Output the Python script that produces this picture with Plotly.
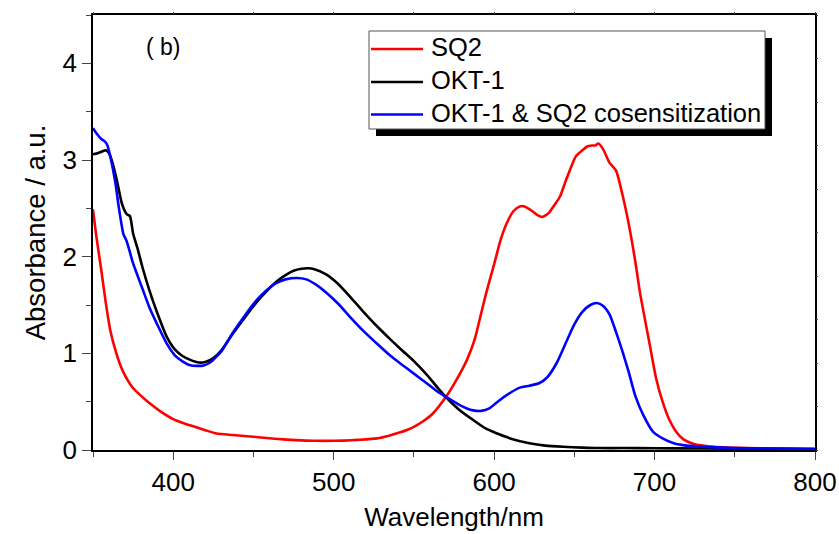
import plotly.graph_objects as go

# ---- data ----
okt_wl = [350, 353, 356, 358, 360, 362, 365, 368, 371, 373, 375, 378, 381, 385, 390, 396, 401, 406, 411, 416,
          420, 425, 430, 437, 445, 452, 458, 465, 470, 475, 480, 484, 488, 495, 502, 510, 518, 527, 535, 542,
          550, 558, 565, 571, 578, 587, 595, 602, 610, 622, 632, 643, 655, 665, 680, 700, 730, 760, 800]
okt_abs = [3.06, 3.07, 3.09, 3.10, 3.07, 2.98, 2.78, 2.55, 2.44, 2.42, 2.24, 2.07, 1.88, 1.66, 1.42, 1.17, 1.04, 0.97, 0.93, 0.905,
           0.91, 0.95, 1.03, 1.20, 1.38, 1.53, 1.64, 1.75, 1.81, 1.855, 1.875, 1.88, 1.87, 1.82, 1.73, 1.59, 1.44, 1.28, 1.15, 1.04,
           0.92, 0.78, 0.64, 0.53, 0.42, 0.31, 0.22, 0.17, 0.12, 0.07, 0.045, 0.033, 0.025, 0.02, 0.02, 0.018, 0.015, 0.012, 0.01]

co_wl = [350, 352, 355, 357.5, 359, 361, 364, 366, 369, 371, 375, 381, 385.5, 390, 396, 401, 406, 410, 415, 419,
         423, 430, 437, 445, 452, 458, 464.5, 470, 477, 483, 489, 496, 503, 510, 518, 527, 535, 542, 550, 558,
         565, 570, 577, 583, 587, 592, 597, 603, 609, 616, 622, 628, 633, 639, 645, 650, 655, 660, 664, 668,
         672, 676, 680, 684, 688, 693, 699, 705, 712, 720, 735, 750, 770, 800]
co_abs = [3.33, 3.28, 3.22, 3.19, 3.15, 3.02, 2.76, 2.52, 2.23, 2.16, 1.93, 1.66, 1.46, 1.30, 1.10, 0.98, 0.915, 0.88, 0.87, 0.875,
          0.905, 1.02, 1.21, 1.40, 1.55, 1.65, 1.73, 1.765, 1.78, 1.765, 1.71, 1.62, 1.51, 1.38, 1.24, 1.10, 0.98, 0.89, 0.79, 0.69,
          0.60, 0.55, 0.48, 0.43, 0.41, 0.405, 0.43, 0.51, 0.58, 0.645, 0.665, 0.69, 0.75, 0.90, 1.12, 1.30, 1.43, 1.50, 1.52, 1.49,
          1.40, 1.22, 1.02, 0.80, 0.56, 0.36, 0.19, 0.12, 0.07, 0.045, 0.03, 0.02, 0.015, 0.01]

sq2_wl = [350, 352, 355, 358, 361, 364, 367, 370, 375, 380, 385.5, 392, 400, 406, 412.5, 420, 427, 437, 448, 458,
          468.6, 480, 489, 500, 506, 515, 527, 535, 541, 546, 550, 556, 562, 570, 576, 583, 588, 591, 595, 600,
          604, 608, 612, 616, 619, 623, 627, 630, 634, 637, 641, 645, 651, 655, 658, 661, 663, 665, 668, 672,
          676, 680, 684, 688, 691, 697, 701, 705, 709, 713, 718, 724, 730, 737, 745, 757, 775, 800]
sq2_abs = [2.49, 2.22, 1.88, 1.52, 1.22, 1.03, 0.88, 0.77, 0.64, 0.56, 0.48, 0.40, 0.32, 0.28, 0.245, 0.205, 0.17, 0.155, 0.14, 0.125,
           0.11, 0.10, 0.095, 0.095, 0.097, 0.105, 0.12, 0.15, 0.18, 0.21, 0.24, 0.30, 0.38, 0.55, 0.71, 0.93, 1.15, 1.35, 1.62, 1.92,
           2.17, 2.35, 2.47, 2.52, 2.52, 2.48, 2.43, 2.41, 2.45, 2.52, 2.62, 2.80, 3.04, 3.10, 3.14, 3.15, 3.15, 3.17, 3.11, 2.97,
           2.89, 2.64, 2.33, 1.95, 1.62, 1.09, 0.74, 0.50, 0.32, 0.20, 0.11, 0.065, 0.045, 0.032, 0.025, 0.02, 0.015, 0.01]

series_names = ["SQ2", "OKT-1", "OKT-1 & SQ2 cosensitization"]
series_colors = ["#ff0000", "#000000", "#0000ff"]

x_ticks = [400, 500, 600, 700, 800]
y_ticks = [0, 1, 2, 3, 4]

FONT = "Liberation Sans, Arial, sans-serif"
W, H = 839, 534
L, R, T, B = 93, 24, 15, 84
PW, PH = W - L - R, H - T - B


def px(xp):
    return (xp - L) / PW


def py(yp):
    return (H - B - yp) / PH


fig = go.Figure()
line_kw = dict(width=2.6, shape="spline", smoothing=0.6)
for xs, ys, nm, col in zip([sq2_wl, okt_wl, co_wl], [sq2_abs, okt_abs, co_abs], series_names, series_colors):
    fig.add_trace(go.Scatter(x=xs, y=ys, mode="lines", name=nm, showlegend=False,
                             line=dict(color=col, **line_kw)))
# invisible trace so the secondary (tiny-tick) axes are drawn
fig.add_trace(go.Scatter(x=[350], y=[0], xaxis="x2", yaxis="y2", mode="markers",
                         marker=dict(opacity=0), showlegend=False, hoverinfo="skip"))

# legend drawn as a boxed panel with drop shadow (Origin style)
box = dict(x0=369, x1=765, y0=31, y1=129)
shadow_off = 7
shapes = [
    dict(type="rect", xref="paper", yref="paper",
         x0=px(box["x0"] + shadow_off), x1=px(box["x1"] + shadow_off),
         y0=py(box["y1"] + shadow_off), y1=py(box["y0"] + shadow_off),
         fillcolor="black", line=dict(width=0), layer="above"),
    dict(type="rect", xref="paper", yref="paper",
         x0=px(box["x0"]), x1=px(box["x1"]), y0=py(box["y1"]), y1=py(box["y0"]),
         fillcolor="white", line=dict(color="#555555", width=1), layer="above"),
]
annotations = [dict(text="( b)", xref="paper", yref="paper",
                    x=px(163), y=py(47), xanchor="center", yanchor="middle",
                    showarrow=False, font=dict(size=23))]
row_y = [47, 80, 112.5]
for i, (nm, col) in enumerate(zip(series_names, series_colors)):
    shapes.append(dict(type="line", xref="paper", yref="paper",
                       x0=px(371), x1=px(423), y0=py(row_y[i] + 2), y1=py(row_y[i] + 2),
                       line=dict(color=col, width=2.6), layer="above"))
    annotations.append(dict(text=nm, xref="paper", yref="paper",
                            x=px(429), y=py(row_y[i]), xanchor="left", yanchor="middle",
                            showarrow=False, font=dict(size=25.5)))

fig.update_layout(
    width=W, height=H,
    margin=dict(l=L, r=R, t=T, b=B, autoexpand=False),
    paper_bgcolor="white", plot_bgcolor="white",
    font=dict(family=FONT, size=26, color="black"),
    showlegend=False,
    xaxis=dict(range=[350, 800], tickvals=x_ticks, ticks="outside", ticklen=8, tickwidth=1.3,
               minor=dict(dtick=50, tick0=350, ticks="outside", ticklen=5, tickwidth=1.3),
               showline=True, linecolor="black", linewidth=1.5, mirror=True,
               showgrid=False, zeroline=False, automargin=False,
               tickfont=dict(size=26),
               title=dict(text="Wavelength/nm", font=dict(size=26), standoff=12)),
    yaxis=dict(range=[0, 4.5], tickvals=y_ticks, ticks="outside", ticklen=9, tickwidth=1.3,
               minor=dict(dtick=0.5, tick0=0, ticks="outside", ticklen=5, tickwidth=1.3),
               showline=True, linecolor="black", linewidth=1.5, mirror=True,
               showgrid=False, zeroline=False, automargin=False,
               tickfont=dict(size=26),
               title=dict(text="Absorbance / a.u.", font=dict(size=27.5), standoff=9)),
    xaxis2=dict(overlaying="x", side="top", range=[350, 800], dtick=50, tick0=350,
                ticks="outside", ticklen=2, tickwidth=1, showticklabels=False,
                showline=False, showgrid=False, zeroline=False),
    yaxis2=dict(overlaying="y", side="right", range=[0, 4.5], dtick=0.45, tick0=0,
                ticks="outside", ticklen=2, tickwidth=1, showticklabels=False,
                showline=False, showgrid=False, zeroline=False),
    shapes=shapes,
    annotations=annotations,
)

fig.write_html("out.html", config={"displayModeBar": False},
               post_script="document.body.style.margin='0';")
